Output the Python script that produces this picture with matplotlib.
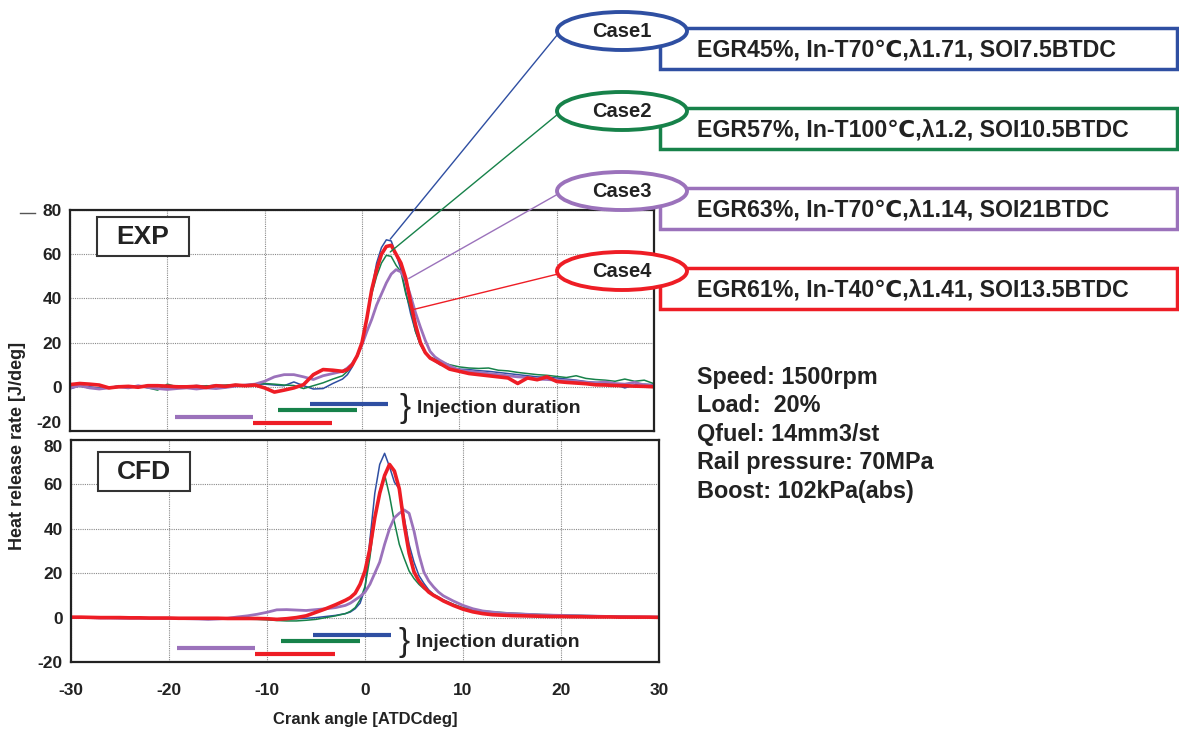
import numpy as np
import matplotlib.pyplot as plt
from matplotlib.patches import Ellipse, Rectangle, ConnectionPatch

plt.rcParams['font.family'] = ['Liberation Sans', 'DejaVu Sans']
plt.rcParams['font.weight'] = 'bold'
plt.rcParams['axes.labelweight'] = 'bold'
plt.rcParams['axes.unicode_minus'] = False

# Crank angle grid [ATDC deg]
angle = [-30, -29, -28, -27, -26, -25, -24, -23, -22, -21, -20, -19, -18, -17, -16,
         -15, -14, -13, -12, -11, -10, -9, -8, -7, -6, -5, -4, -3, -2,
         -1.5, -1, -0.5, 0, 0.5, 1, 1.5, 2, 2.5, 3, 3.5, 4, 4.5, 5, 5.5, 6, 6.5, 7, 7.5, 8,
         9, 10, 11, 12, 13, 14, 15, 16, 17, 18, 19, 20, 21, 22, 23, 24, 25, 26, 27, 28, 29, 30]

# Experiment heat release rate [J/deg]
exp_case1 = [-1, 0.5, 0, -0.5, -0.5, 0.5, 0, -0.3, 0.8, 0.3, -0.2, 0.5, 0.2, 0.6, 0.3,
             0.8, 0.5, 1.0, 0.8, 1.2, 1.2, 0.8, 0.5, 2.2, 0.5, -1.0, -0.8, 1.5, 3.5,
             5.5, 9, 14, 19, 31, 44, 56, 63, 66.5, 66, 60, 53, 43, 33, 25, 19, 15.5, 13, 11.5, 10,
             8.5, 8, 7.8, 7.3, 7, 6.5, 6, 5.5, 5, 4.5, 4.3, 4, 3.5, 3, 2.4, 2, 1.5, 1, -0.5, 0.8, 1.2, 1]
exp_case2 = [0, 0.3, -0.5, -0.8, -0.3, 0.2, 0, 0.5, -0.5, -1.5, 1.2, 0, 0.3, -0.2, 0.5,
             0.3, 0.8, 1.0, 0.8, 1.2, 1.5, 1.2, 0.8, 0.6, -0.8, 0.5, 1.8, 3.5, 5,
             7, 10, 14, 20, 31, 42, 50, 56, 59.5, 59, 55, 52, 42, 35, 25, 19, 15, 13.5, 12.5, 11.5,
             10, 9, 8.5, 8.3, 8.5, 7.5, 7.2, 6.5, 6, 5.5, 5.2, 4.7, 4.2, 5, 3.8, 3.3, 3, 2.5, 3.5, 2.5, 3, 1.4]
exp_case3 = [-0.5, 0.5, -0.5, -1.0, -0.5, 0, -0.5, 0.5, -0.3, -0.8, -1.2, -0.8, -0.5, -1.0, -0.5,
             -0.8, -0.3, 0.3, 0.8, 1.2, 2.5, 4.5, 5.5, 5.5, 4.5, 3.3, 5, 6, 7,
             8.5, 10.5, 14, 19, 25, 30.5, 37, 42, 47, 51, 53, 52, 48, 41, 33.5, 27, 21, 16, 13.5, 12,
             9.5, 7.5, 7, 6.5, 6, 5.5, 5, 4.5, 4.2, 3.5, 3.3, 3, 2.8, 2.5, 2, 1.8, 2.2, 1.5, 1.2, 2, 0.8, 0.5]
exp_case4 = [1, 1.5, 1.2, 0.8, -0.5, 0, 0.2, -0.2, 0.5, 0.5, 0.3, 0, 0, 0.2, -0.3,
             0.5, 0.2, 0.8, 0.5, 0.8, -0.5, -2.4, -1.5, -0.5, 1, 5.5, 7.8, 7.5, 7,
             7.8, 10, 14, 20, 31, 44, 53, 60, 63.5, 64, 60, 56, 49, 38, 28, 20, 15.5, 13, 11.8, 10.6,
             8, 7, 6, 5.5, 5, 4.5, 4, 1.5, 4, 3.2, 4.5, 2.4, 2, 1.7, 1.4, 0.9, 0.8, 0.6, 0.5, 0.3, 0.2, 0]

# CFD heat release rate [J/deg]
cfd_case1 = [0, 0, 0, -0.2, -0.2, -0.3, -0.3, -0.3, -0.3, -0.3, -0.3, -0.4, -0.4, -0.4, -0.4,
             -0.4, -0.5, -0.5, -0.5, -0.5, -0.5, -0.6, -0.6, -0.5, -0.3, 0, 0.5, 1, 1.8,
             2.5, 4, 6.5, 13, 35, 56, 69, 74, 68, 61, 58, 45, 33, 25, 19, 15.5, 12.5, 10.5, 9.3, 8,
             6, 4, 3, 2.2, 1.7, 1.4, 1.2, 1, 0.9, 0.8, 0.7, 0.6, 0.5, 0.5, 0.4, 0.4, 0.3, 0.3, 0.3, 0.2, 0.2, 0.2]
cfd_case2 = [0, 0, 0, -0.2, -0.2, -0.3, -0.3, -0.3, -0.3, -0.3, -0.4, -0.4, -0.4, -0.5, -0.5,
             -0.5, -0.6, -0.6, -0.7, -0.8, -1.0, -1.3, -1.5, -1.5, -1.2, -0.8, 0, 0.8, 1.8,
             2.8, 4.5, 8, 14, 27, 45, 57, 64.5, 55, 43, 33, 26.7, 21, 17.6, 15, 13, 11.5, 10, 8.8, 7.7,
             6, 4.5, 3.7, 3, 2.6, 2.3, 2, 1.8, 1.6, 1.4, 1.3, 1.2, 1.1, 1, 0.9, 0.8, 0.7, 0.6, 0.5, 0.4, 0.3, 0.3]
cfd_case3 = [0, 0, 0, -0.2, -0.2, -0.3, -0.3, -0.3, -0.3, -0.3, -0.3, -0.4, -0.5, -0.6, -0.8,
             -0.6, -0.3, 0.3, 0.8, 1.5, 2.4, 3.5, 3.6, 3.4, 3.2, 3.6, 4, 4.5, 5.5,
             6.5, 8, 9.5, 11.5, 15, 20, 25, 33, 40, 45, 47, 48.5, 47, 39, 28.5, 20.6, 16.5, 13.8, 11.5, 9.8,
             7.5, 5.5, 4, 3, 2.5, 2, 1.8, 1.6, 1.4, 1.2, 1.1, 1, 0.9, 0.8, 0.7, 0.6, 0.5, 0.5, 0.4, 0.4, 0.3, 0.3]
cfd_case4 = [0.2, 0.2, 0.1, 0, 0, 0, -0.1, -0.1, -0.2, -0.2, -0.2, -0.3, -0.3, -0.3, -0.3,
             -0.3, -0.4, -0.4, -0.4, -0.4, -0.5, -0.8, -0.5, 0, 0.8, 2.4, 4, 5.8, 7.8,
             9, 11, 15, 21, 31, 45, 56, 64, 69, 66, 58, 42, 29, 20.6, 16.5, 13.8, 11.5, 10, 8.8, 7.5,
             5.5, 3.8, 2.6, 1.8, 1.3, 1.1, 0.9, 0.8, 0.7, 0.6, 0.5, 0.5, 0.4, 0.4, 0.3, 0.3, 0.3, 0.2, 0.2, 0.2, 0.2, 0.1]

# Injection duration bars: start, end [deg], drawn level
inj_start = [-5.3, -8.6, -19.2, -11.2]
inj_end = [2.7, -0.5, -11.2, -3.1]
inj_level = [-7.8, -10.7, -13.7, -16.5]

case_names = ['Case1', 'Case2', 'Case3', 'Case4']
case_desc = ['EGR45%, In-T70℃,λ1.71, SOI7.5BTDC',
             'EGR57%, In-T100℃,λ1.2, SOI10.5BTDC',
             'EGR63%, In-T70℃,λ1.14, SOI21BTDC',
             'EGR61%, In-T40℃,λ1.41, SOI13.5BTDC']
colors = ['#2f4fa2', '#17824a', '#9b72bb', '#ee1d25']
widths = [1.1, 1.1, 2.0, 2.6]
# points on EXP curves where callout lines end
callout_x = [2.9, 2.9, 4.8, 5.3]
callout_y = [66.8, 61, 49, 35]

conditions = ['Speed: 1500rpm', 'Load:  20%', 'Qfuel: 14mm3/st',
              'Rail pressure: 70MPa', 'Boost: 102kPa(abs)']

W, H = 1179, 729
fig = plt.figure(figsize=(W / 100, H / 100), dpi=100)
ax_exp = fig.add_axes([70 / W, 1 - 431 / H, 584 / W, 221 / H])
ax_cfd = fig.add_axes([71 / W, 1 - 662 / H, 588 / W, 222 / H])

exp_data = [exp_case1, exp_case2, exp_case3, exp_case4]
cfd_data = [cfd_case1, cfd_case2, cfd_case3, cfd_case4]

for ax, data in [(ax_exp, exp_data), (ax_cfd, cfd_data)]:
    for y, c, lw in zip(data, colors, widths):
        ax.plot(angle, y, color=c, lw=lw)
    for s, e, lv, c in zip(inj_start, inj_end, inj_level, colors):
        ax.hlines(lv, s, e, color=c, lw=3)
    ax.set_xlim(-30, 30)
    ax.set_ylim(-20, 80)
    ax.set_xticks(np.arange(-30, 31, 10))
    ax.set_yticks(np.arange(-20, 81, 20))
    ax.grid(True, color='#8a8a8a', lw=0.8, ls=(0, (1, 1)))
    ax.tick_params(length=0, labelsize=12.5, labelcolor='#222222')
    ax.tick_params(axis='y', pad=6)
    ax.tick_params(axis='x', pad=15)
    for sp in ax.spines.values():
        sp.set_color('#222222')
        sp.set_linewidth(1.6)

ax_exp.tick_params(labelbottom=False)
ax_cfd.set_xlabel('Crank angle [ATDCdeg]', fontsize=12, labelpad=10, color='#222222')

# nudge the crowded labels between the two panels, as in the original
ax_exp.get_yticklabels()[0].set_va('bottom')
ax_cfd.get_yticklabels()[-1].set_va('top')

ax_exp.text(4.4, -9.6, '}', fontsize=24, fontweight='light', va='center', ha='center', color='#222222')
ax_exp.text(5.6, -9.6, 'Injection duration', fontsize=14, va='center', color='#222222')
ax_cfd.text(4.0, -11.4, '}', fontsize=24, fontweight='light', va='center', ha='center', color='#222222')
ax_cfd.text(5.2, -11.4, 'Injection duration', fontsize=14, va='center', color='#222222')

fig.text(18 / W, 1 - 446 / H, 'Heat release rate [J/deg]', rotation=90, fontsize=13,
         ha='center', va='center', color='#222222')

# overlay in pixel coordinates for annotations
ov = fig.add_axes([0, 0, 1, 1])
ov.set_xlim(0, W)
ov.set_ylim(H, 0)
ov.axis('off')
ov.set_zorder(5)

ov.plot([20, 35], [213, 213], color='#555555', lw=1)

for (bx, by, label) in [(97, 217, 'EXP'), (98, 452, 'CFD')]:
    ov.add_patch(Rectangle((bx, by), 92, 39, facecolor='white', edgecolor='#333333', lw=1.5))
    ov.text(bx + 46, by + 20, label, fontsize=19, ha='center', va='center', color='#222222')

for i in range(4):
    cy = 31 + 80 * i
    ov.add_patch(Rectangle((660, cy - 3), 517, 41, facecolor='white', edgecolor=colors[i], lw=2.5, zorder=2))
    ov.add_patch(Ellipse((622, cy), 130, 38, facecolor='white', edgecolor=colors[i], lw=2.8, zorder=3))
    ov.text(622, cy, case_names[i], fontsize=14.5, ha='center', va='center', color='#222222', zorder=4)
    ov.text(697, cy + 19, case_desc[i], fontsize=16.7, ha='left', va='center', color='#222222', zorder=4)
    con = ConnectionPatch(xyA=(558, cy + 3), coordsA=ov.transData,
                          xyB=(callout_x[i], callout_y[i]), coordsB=ax_exp.transData,
                          color=colors[i], lw=1.0)
    fig.add_artist(con)

for k, t in enumerate(conditions):
    ov.text(697, 377 + 28.5 * k, t, fontsize=16.8, ha='left', va='center', color='#222222')

plt.savefig('out.png', dpi=100)
